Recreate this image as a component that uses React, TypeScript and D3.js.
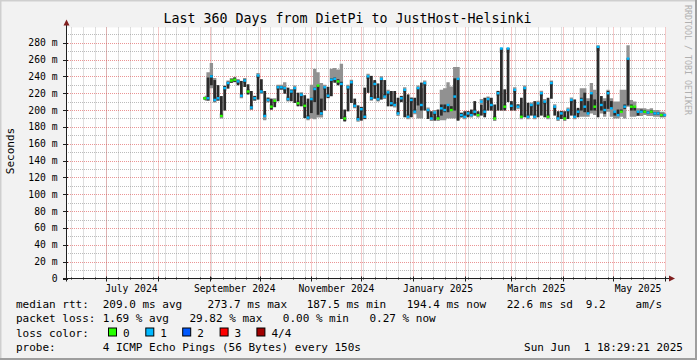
import React from 'react';
import * as d3 from 'd3';

const W = 697;
const H = 360;

const TITLE = 'Last 360 Days from DietPi to JustHost-Helsinki';
const Y_UNIT = 'Seconds';
const WATERMARK = 'RRDTOOL / TOBI OETIKER';

const RANGE_START = Date.UTC(2024, 5, 6, 18, 29, 21);
const RANGE_END = Date.UTC(2025, 5, 1, 18, 29, 21);
const DATA_START = Date.UTC(2024, 7, 28);
const STEP_DAYS = 2;

// median rtt (ms) per 2-day step
const median = [
  214, 214, 240, 212, 214, 193, 226, 232, 235, 236, 234, 217, 235, 222, 203, 214, 241, 222, 193, 212,
  204, 211, 227, 227, 226, 213, 222, 226,
  208, 218, 205, 191, 213, 225, 229, 196, 227, 217, 236, 237, 234, 231, 190, 227, 233, 205, 189, 201,
  192, 240, 214, 231, 213, 237, 216, 221, 208,
  206, 196, 214, 224, 192, 212, 198, 226, 206, 232, 200, 190, 197, 190, 202, 200, 206, 200, 216, 237,
  194, 192, 196, 194, 198, 194, 210, 198,
  213, 206, 190, 220, 273, 204, 273, 205, 224, 204, 192, 226, 192, 206, 192, 208, 220, 210, 192, 232,
  204, 190, 196, 190, 200, 212, 192, 198, 212,
  204, 196, 220, 204, 275, 206, 200, 220, 202, 198, 194, 198, 204, 261, 204, 204, 198, 198, 198, 197,
  198, 196, 196, 194, 194,
];

// lost pings per step (0 = none, 1 = one of four)
const loss = [
  0, 1, 1, 1, 1, 0, 1, 1, 0, 0, 1, 1, 1, 0, 1, 1, 1, 1, 1, 1,
  0, 0, 1, 1, 1, 1, 1, 1,
  0, 1, 0, 1, 1, 1, 0, 1, 1, 1, 1, 1, 0, 1, 0, 1, 1, 1, 1, 1,
  1, 1, 1, 1, 1, 1, 1, 1, 1,
  1, 1, 1, 1, 1, 1, 1, 1, 1, 1, 1, 1, 1, 0, 1, 1, 1, 0, 1, 1,
  1, 1, 1, 1, 1, 0, 1, 1,
  1, 1, 0, 1, 1, 0, 1, 1, 1, 1, 0, 1, 1, 1, 1, 1, 1, 1, 0, 1,
  1, 1, 1, 0, 1, 1, 1, 1, 1,
  1, 1, 1, 0, 1, 1, 1, 1, 1, 1, 1, 0, 1, 1, 0, 0, 1, 1, 0, 1,
  0, 1, 1, 0, 1,
];

// inner smoke band (2nd..3rd ping), ms
const darkLo = [
  213, 212, 230, 211, 212, 193, 200, 226, 233, 234, 230, 216, 228, 219, 202, 212, 213, 221, 193, 211,
  201, 204, 211, 225, 220, 212, 211, 209,
  205, 205, 191, 190, 197, 210, 195, 195, 200, 215, 217, 233, 230, 190, 187, 199, 209, 204, 189, 188,
  190, 221, 213, 214, 212, 213, 216, 205, 205,
  206, 196, 210, 192, 192, 192, 198, 206, 200, 200, 190, 190, 188, 190, 194, 198, 198, 200, 200, 188,
  192, 192, 192, 194, 194, 194, 194, 192,
  200, 200, 190, 200, 200, 200, 210, 200, 200, 204, 192, 192, 192, 194, 192, 192, 194, 192, 192, 214,
  194, 190, 190, 190, 190, 194, 192, 192, 200,
  198, 196, 200, 200, 192, 200, 196, 202, 202, 194, 194, 198, 202, 206, 200, 200, 194, 198, 197, 196,
  197, 195, 195, 193, 193,
];
const darkHi = [
  215, 238, 241, 235, 229, 216, 228, 233, 236, 238, 235, 234, 236, 230, 222, 216, 241, 236, 222, 214,
  213, 211, 228, 228, 227, 226, 223, 226,
  220, 219, 217, 213, 214, 226, 229, 213, 227, 227, 237, 238, 236, 233, 200, 228, 234, 213, 205, 203,
  226, 240, 240, 235, 231, 237, 235, 221, 222,
  222, 214, 216, 224, 218, 214, 214, 226, 232, 232, 200, 198, 197, 200, 206, 206, 206, 204, 237, 237,
  196, 198, 198, 200, 210, 198, 206, 214,
  214, 214, 206, 222, 273, 224, 273, 210, 224, 206, 214, 226, 208, 206, 210, 208, 220, 210, 214, 233,
  204, 198, 198, 198, 200, 212, 212, 202, 214,
  220, 210, 220, 212, 275, 216, 210, 222, 210, 198, 200, 200, 206, 261, 206, 204, 198, 200, 199, 198,
  199, 197, 197, 195, 195,
];

// outer smoke band (1st..4th ping), ms
const smokeHi = [
  217, 245, 256, 238, 216, 196, 229, 235, 238, 239, 237, 220, 238, 225, 206, 217, 244, 225, 196, 215,
  207, 214, 230, 230, 233, 216, 225, 229,
  211, 221, 208, 194, 230, 249, 245, 232, 230, 220, 249, 250, 248, 255, 193, 230, 236, 208, 192, 204,
  195, 243, 217, 234, 216, 240, 219, 224, 211,
  209, 199, 217, 227, 195, 215, 201, 229, 226, 235, 203, 193, 200, 193, 224, 226, 233, 228, 251, 251,
  197, 195, 199, 197, 201, 197, 213, 201,
  216, 209, 193, 223, 274, 207, 274, 208, 227, 207, 195, 229, 195, 209, 195, 211, 223, 213, 195, 235,
  207, 193, 199, 193, 203, 215, 195, 201, 226,
  226, 214, 232, 224, 277, 209, 214, 224, 214, 210, 210, 224, 224, 277, 212, 210, 202, 202, 202, 201,
  202, 200, 200, 198, 198,
];
const smokeLo = [
  211, 211, 226, 209, 211, 190, 223, 229, 232, 233, 231, 214, 232, 219, 200, 211, 238, 219, 188, 209,
  201, 208, 224, 224, 223, 210, 219, 223,
  205, 215, 202, 188, 190, 189, 191, 191, 224, 214, 233, 234, 231, 228, 187, 224, 230, 202, 186, 198,
  189, 237, 211, 228, 210, 234, 213, 218, 205,
  203, 193, 211, 221, 189, 209, 195, 190, 190, 229, 197, 187, 194, 187, 188, 188, 190, 190, 190, 188,
  191, 189, 193, 191, 195, 191, 207, 195,
  210, 203, 187, 217, 268, 201, 268, 202, 221, 201, 189, 223, 189, 203, 189, 205, 217, 207, 189, 229,
  201, 187, 193, 187, 197, 209, 189, 195, 192,
  192, 192, 196, 194, 270, 196, 192, 198, 192, 190, 190, 192, 190, 204, 192, 192, 193, 193, 194, 193,
  193, 192, 192, 191, 191,
];

const yTicks = [0, 20, 40, 60, 80, 100, 120, 140, 160, 180, 200, 220, 240, 260, 280];
const yMinor = [10, 30, 50, 70, 90, 110, 130, 150, 170, 190, 210, 230, 250, 270, 290];
const xLabels = [
  { date: Date.UTC(2024, 6, 16), text: 'July 2024' },
  { date: Date.UTC(2024, 8, 16), text: 'September 2024' },
  { date: Date.UTC(2024, 10, 16), text: 'November 2024' },
  { date: Date.UTC(2025, 0, 16), text: 'January 2025' },
  { date: Date.UTC(2025, 2, 16), text: 'March 2025' },
  { date: Date.UTC(2025, 4, 16), text: 'May 2025' },
];

const lossLabels = ['0', '1', '2', '3', '4/4'];
const lossColors = ['#26ff00', '#00b8ff', '#0059ff', '#ff0000', '#a10000'];

const legendRtt = ['209.0 ms avg', '273.7 ms max', '187.5 ms min', '194.4 ms now', '22.6 ms sd', '9.2', 'am/s'];
const legendLoss = ['1.69 % avg', '29.82 % max', '0.00 % min', '0.27 % now'];
const probeText = '4 ICMP Echo Pings (56 Bytes) every 150s';
const stampText = 'Sun Jun  1 18:29:21 2025';

const FONT = '"DejaVu Sans Mono", monospace';

export default function App() {
  const left = 66;
  const right = 666;
  const top = 27.5;
  const bottom = 278.5;

  const x = d3.scaleUtc().domain([RANGE_START, RANGE_END]).range([left, right]);
  const y = d3.scaleLinear().domain([0, 298]).range([bottom, top]);

  const DAY = 86400000;
  const stepT = STEP_DAYS * DAY;
  const tOf = (i: number) => DATA_START + i * stepT;
  const stepPx = x(tOf(1)) - x(tOf(0));

  const months = d3.utcMonth.range(new Date(RANGE_START), new Date(RANGE_END));
  const mondays = d3.utcMonday.range(new Date(RANGE_START), new Date(RANGE_END));

  const idx = median.map((_, i) => i);

  const smokeArea = d3
    .area<number>()
    .x((i) => x(tOf(i) + stepT / 2))
    .y0((i) => y(smokeLo[i]))
    .y1((i) => y(smokeHi[i]))
    .curve(d3.curveStep);

  const gridGray = 'rgba(143,143,143,0.6)';
  const gridRed = 'rgba(222,79,79,0.6)';
  const axisCol = '#1f1f1f';
  const arrowCol = '#801f1f';

  // legend layout: monospace cells, rrdtool-like gaps
  const cw = 6.67;
  const gap = 20;
  const legendX = 16;
  const valX = 16 + 13 * cw;
  const rttX = [valX, 207.6, 306.7, 406.7, 506.7, 585.8, 635.6];
  const lossX: number[] = [];
  legendLoss.reduce((pos, s) => {
    lossX.push(pos);
    return pos + s.length * cw + gap;
  }, valX);
  const boxX = [108, 145.3, 182.2, 219.6, 256.4];
  const lines = [307.5, 322, 336.5, 351];

  const T = (props: any) => <text xmlSpace="preserve" {...props} />;
  const barW = stepPx - 0.6;

  return (
    <svg width={W} height={H} style={{ display: 'block', position: 'absolute', left: 0, top: 0 }}>
      <rect x={0} y={0} width={W} height={H} fill="#f2f2f2" />
      {/* 3D frame */}
      <rect x={0} y={0} width={W} height={1.5} fill="#cfcfcf" />
      <rect x={0} y={0} width={1.5} height={H} fill="#cfcfcf" />
      <rect x={0} y={H - 2} width={W} height={2} fill="#9e9e9e" />
      <rect x={W - 2} y={0} width={2} height={H} fill="#9e9e9e" />

      <rect x={left} y={top} width={right - left} height={bottom - top} fill="#ffffff" />

      {/* minor grid */}
      {yMinor.map((v) => (
        <line key={'ym' + v} x1={left} x2={right} y1={Math.round(y(v)) + 0.5} y2={Math.round(y(v)) + 0.5}
          stroke={gridGray} strokeDasharray="1,1" />
      ))}
      {mondays.map((d) => (
        <line key={'xm' + d.getTime()} x1={Math.round(x(d)) + 0.5} x2={Math.round(x(d)) + 0.5} y1={top} y2={bottom}
          stroke={gridGray} strokeDasharray="1,1" />
      ))}
      {/* major grid */}
      {yTicks.filter((v) => v > 0).map((v) => (
        <line key={'yM' + v} x1={left} x2={right} y1={Math.round(y(v)) + 0.5} y2={Math.round(y(v)) + 0.5}
          stroke={gridRed} strokeDasharray="1,1" />
      ))}
      {months.map((d) => (
        <line key={'xM' + d.getTime()} x1={Math.round(x(d)) + 0.5} x2={Math.round(x(d)) + 0.5} y1={top} y2={bottom}
          stroke={gridRed} strokeDasharray="1,1" />
      ))}

      {/* outer smoke */}
      <path d={smokeArea(idx) || ''} fill="#919191" />
      {/* inner smoke */}
      {idx.map((i) => (
        <rect key={'d' + i} x={x(tOf(i)) + 0.3} y={y(darkHi[i]) - 0.5} width={barW}
          height={y(darkLo[i]) - y(darkHi[i]) + 1} fill="#2a2a2a" />
      ))}
      {/* median, coloured by loss */}
      {idx.map((i) => (
        <rect key={'m' + i} x={x(tOf(i)) + 0.3} y={y(median[i]) - 1.2} width={barW} height={2.4}
          fill={lossColors[loss[i]]} />
      ))}

      {/* axes */}
      <line x1={left - 3} x2={672} y1={bottom} y2={bottom} stroke={axisCol} strokeWidth={1} />
      <line x1={left + 0.5} x2={left + 0.5} y1={bottom + 3} y2={23} stroke={axisCol} strokeWidth={1} />
      <path d={`M${left + 0.5},19.5 L${left - 2.5},25.5 L${left + 3.5},25.5 Z`} fill={arrowCol} />
      <path d={`M675,${bottom} L669,${bottom - 3} L669,${bottom + 3} Z`} fill={arrowCol} />
      {yTicks.map((v) => (
        <line key={'yt' + v} x1={left - 3} x2={left + 2} y1={Math.round(y(v)) + 0.5} y2={Math.round(y(v)) + 0.5}
          stroke={axisCol} />
      ))}
      {months.map((d) => (
        <line key={'xt' + d.getTime()} x1={Math.round(x(d)) + 0.5} x2={Math.round(x(d)) + 0.5} y1={bottom - 2}
          y2={bottom + 3} stroke={axisCol} />
      ))}
      {mondays.map((d) => (
        <line key={'xt2' + d.getTime()} x1={Math.round(x(d)) + 0.5} x2={Math.round(x(d)) + 0.5} y1={bottom - 1}
          y2={bottom + 1} stroke={axisCol} />
      ))}

      {/* axis labels */}
      {yTicks.map((v) => (
        <T key={'yl' + v} x={57.5} y={y(v) + 3.5} textAnchor="end" fontFamily={FONT} fontSize={9.7} fill="#000">
          {v === 0 ? '0' : `${v} m`}
        </T>
      ))}
      {xLabels.map((l) => (
        <T key={'xl' + l.text} x={x(l.date)} y={291.5} textAnchor="middle" fontFamily={FONT} fontSize={9.7} fill="#000">
          {l.text}
        </T>
      ))}

      <T x={347.5} y={23} textAnchor="middle" fontFamily={FONT} fontSize={13.3} fill="#000">{TITLE}</T>
      <T transform="translate(14,151) rotate(-90)" textAnchor="middle" fontFamily={FONT} fontSize={11} fill="#000">
        {Y_UNIT}
      </T>
      <T transform="translate(685,5) rotate(90)" textAnchor="start" fontFamily={FONT} fontSize={8.3} fill="#b0b0b0">
        {WATERMARK}
      </T>

      {/* legend */}
      <g fontFamily={FONT} fontSize={11} fill="#000">
        <T x={legendX} y={lines[0]}>median rtt:</T>
        {legendRtt.map((s, i) => (
          <T key={'r' + i} x={rttX[i]} y={lines[0]}>{s}</T>
        ))}
        <T x={legendX} y={lines[1]}>packet loss:</T>
        {legendLoss.map((s, i) => (
          <T key={'l' + i} x={lossX[i]} y={lines[1]}>{s}</T>
        ))}
        <T x={legendX} y={lines[2]}>loss color:</T>
        {lossLabels.map((s, i) => (
          <g key={'b' + i}>
            <rect x={boxX[i] + 0.5} y={lines[2] - 8.5} width={8} height={8} fill={lossColors[i]} stroke="#000" strokeWidth={1} />
            <T x={boxX[i] + 15} y={lines[2]}>{s}</T>
          </g>
        ))}
        <T x={legendX} y={lines[3]}>probe:</T>
        <T x={valX} y={lines[3]}>{probeText}</T>
        <T x={683} y={lines[3]} textAnchor="end">{stampText}</T>
      </g>
    </svg>
  );
}
